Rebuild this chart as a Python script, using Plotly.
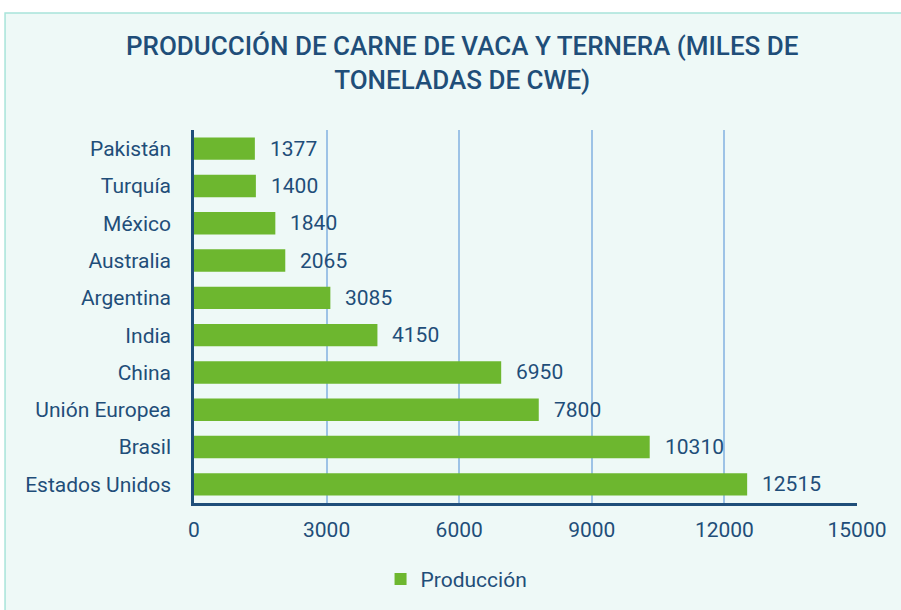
import plotly.graph_objects as go

countries = ["Estados Unidos", "Brasil", "Unión Europea", "China", "India",
             "Argentina", "Australia", "México", "Turquía", "Pakistán"]
values = [12515, 10310, 7800, 6950, 4150, 3085, 2065, 1840, 1400, 1377]
tick_vals = [0, 3000, 6000, 9000, 12000, 15000]
tick_text = ["0", "3000", "6000", "9000", "12000", "15000"]
series_name = "Producción"
title_text = "PRODUCCIÓN DE CARNE DE VACA Y TERNERA (MILES DE<br>TONELADAS DE CWE)"

TXT = "#1F4E79"
GREEN = "#6DB72F"
BG = "#EEF9F7"
FONT = "Roboto"

fig = go.Figure()
fig.add_trace(go.Bar(
    x=values, y=countries, orientation="h", name=series_name,
    marker=dict(color=GREEN, line=dict(width=0)), width=0.6,
))

for c, v in zip(countries, values):
    fig.add_annotation(x=v, y=c, text=str(v), xanchor="left", showarrow=False,
                       xshift=13, font=dict(family=FONT, size=21, color=TXT))

fig.add_shape(type="rect", xref="paper", yref="paper", x0=-0.285, x1=1.2,
              y0=-0.4, y1=1.3137, fillcolor=BG, line=dict(color="#A8E4DA", width=1.5),
              layer="below")

fig.update_layout(
    width=901, height=610,
    margin=dict(l=194, r=44, t=130, b=107, autoexpand=False),
    paper_bgcolor="white", plot_bgcolor="rgba(0,0,0,0)",
    title=dict(text=title_text, x=0.513, xanchor="center", y=0.91, yanchor="top",
               font=dict(family=FONT, size=26, color=TXT, weight=500)),
    showlegend=True,
    legend=dict(orientation="h", x=0.396, xanchor="center", y=-0.15, yanchor="top",
                font=dict(family=FONT, size=21, color=TXT), bgcolor="rgba(0,0,0,0)"),
    xaxis=dict(range=[0, 15000], tickvals=tick_vals, ticktext=tick_text, showgrid=True,
               gridcolor="#9DC3E6", gridwidth=2, zeroline=False, showline=True,
               linecolor=TXT, linewidth=2.5,
               tickfont=dict(family=FONT, size=21, color=TXT), ticks="",
               ticklabelstandoff=6, automargin=False),
    yaxis=dict(showline=True, linecolor=TXT, linewidth=2.5, showgrid=False,
               tickfont=dict(family=FONT, size=21, color=TXT), ticks="",
               ticklabelstandoff=16, automargin=False),
    bargap=0.4,
)

fig.write_html("out.html", config={"displayModeBar": False},
               post_script="document.body.style.margin='0';")
